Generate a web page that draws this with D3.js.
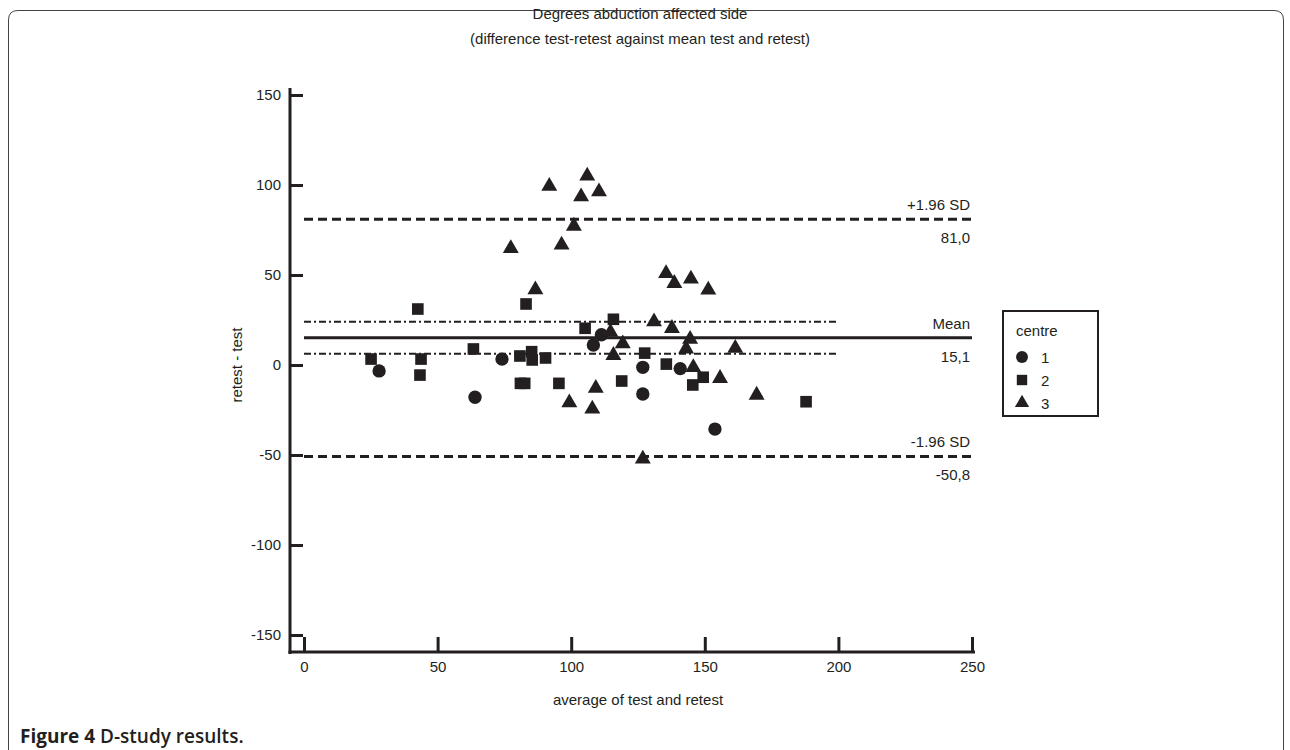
<!DOCTYPE html>
<html>
<head>
<meta charset="utf-8">
<script src="https://cdn.jsdelivr.net/npm/d3@7"></script>
<style>
  body { margin: 0; background: #fff; }
  svg text { font-family: "Liberation Sans", Arial, sans-serif; fill: #231f20; }
</style>
</head>
<body>
<svg id="chart" width="1290" height="750" viewBox="0 0 1290 750"></svg>
<script>
// Bland-Altman points, [average, difference], one array per centre
const centre1 = [
    [28.1, -3.3], [64.0, -17.9], [74.1, 3.3], [108.3, 11.1], [111.3, 16.8],
    [126.8, -1.3], [126.8, -16.1], [140.8, -2.0], [153.8, -35.6]
];
const centre2 = [
    [25.1, 3.3], [42.6, 31.1], [43.8, 3.3], [43.4, -5.6], [63.4, 8.9],
    [83.1, 33.9], [80.8, 5.0], [85.2, 7.4], [85.4, 2.8], [90.4, 3.9],
    [81.0, -10.2], [82.6, -10.2], [95.4, -10.2], [105.2, 20.4], [115.8, 25.4],
    [118.9, -8.9], [127.5, 6.6], [135.6, 0.5], [145.5, -11.1], [149.4, -6.8],
    [187.9, -20.4]
];
const centre3 = [
    [77.4, 64.8], [86.6, 41.9], [91.8, 99.4], [96.4, 66.7], [101.0, 77.2],
    [103.7, 93.5], [106.0, 105.0], [110.4, 96.3], [99.3, -20.9], [107.9, -24.4],
    [109.2, -12.9], [114.7, 18.2], [115.8, 5.4], [119.3, 11.8], [126.8, -52.2],
    [131.0, 24.1], [135.5, 50.9], [137.7, 20.4], [138.6, 45.4], [143.0, 9.0],
    [144.5, 14.4], [144.8, 47.8], [145.7, -1.4], [151.3, 41.7], [155.7, -7.4],
    [161.4, 9.3], [169.4, -16.7]
];

const meanDiff = 15.1;
const upperLoA = 81.0;
const lowerLoA = -50.8;
const meanCI = [6.2, 24.0];

const xTicks = [0, 50, 100, 150, 200, 250];
const yTicks = [-150, -100, -50, 0, 50, 100, 150];
const legendLabels = ["1", "2", "3"];

const ink = "#231f20";
const fs = "15px";
const svg = d3.select("#chart");

// frame around the figure
svg.append("path")
    .attr("d", "M8.5,760 V20 Q8.5,10.5 18,10.5 H1274 Q1283.5,10.5 1283.5,20 V760")
    .attr("fill", "none")
    .attr("stroke", "#444")
    .attr("stroke-width", 1);

const x = d3.scaleLinear().domain([0, 250]).range([304, 972]);
const y = d3.scaleLinear().domain([-150, 150]).range([635, 95]);

// titles
svg.append("text").attr("x", 640).attr("y", 19).attr("text-anchor", "middle")
    .style("font-size", fs).text("Degrees abduction affected side");
svg.append("text").attr("x", 640).attr("y", 44).attr("text-anchor", "middle")
    .style("font-size", fs).text("(difference test-retest against mean test and retest)");

// y axis
const yAxis = svg.append("g")
    .attr("transform", "translate(290,0)")
    .call(d3.axisLeft(y).tickValues(yTicks).tickFormat(d => String(d))
        .tickSizeInner(-13).tickSizeOuter(0).tickPadding(9));
yAxis.select(".domain").remove();
svg.append("line").attr("x1", 290).attr("x2", 290).attr("y1", 88).attr("y2", 654)
    .attr("stroke", ink).attr("stroke-width", 3);

// x axis
const xAxis = svg.append("g")
    .attr("transform", "translate(0,652)")
    .call(d3.axisBottom(x).tickValues(xTicks).tickFormat(d => String(d))
        .tickSizeInner(-15).tickSizeOuter(0).tickPadding(9));
xAxis.select(".domain").remove();
svg.append("line").attr("x1", 288.5).attr("x2", 975).attr("y1", 652).attr("y2", 652)
    .attr("stroke", ink).attr("stroke-width", 3);

[xAxis, yAxis].forEach(a => {
    a.selectAll(".tick line").attr("stroke", ink).attr("stroke-width", 3);
    a.selectAll(".tick text").style("font-size", fs)
        .style("font-family", "'Liberation Sans', Arial, sans-serif")
        .attr("fill", ink);
});

svg.append("text").attr("x", 638).attr("y", 705).attr("text-anchor", "middle")
    .style("font-size", fs).text("average of test and retest");
svg.append("text").attr("transform", "translate(242,365) rotate(-90)").attr("text-anchor", "middle")
    .style("font-size", fs).text("retest - test");

// reference lines
const refs = svg.append("g");
refs.append("line").attr("x1", x(0)).attr("x2", x(250)).attr("y1", y(meanDiff)).attr("y2", y(meanDiff))
    .attr("stroke", ink).attr("stroke-width", 3);
[upperLoA, lowerLoA].forEach(v => {
    refs.append("line").attr("x1", x(0)).attr("x2", x(250)).attr("y1", y(v)).attr("y2", y(v))
        .attr("stroke", ink).attr("stroke-width", 3).attr("stroke-dasharray", "9,5");
});
meanCI.forEach(v => {
    refs.append("line").attr("x1", x(0)).attr("x2", x(200)).attr("y1", y(v)).attr("y2", y(v))
        .attr("stroke", ink).attr("stroke-width", 2).attr("stroke-dasharray", "7,3,2,3");
});

const refLabels = [
    [upperLoA, "+1.96 SD", "81,0"],
    [meanDiff, "Mean", "15,1"],
    [lowerLoA, "-1.96 SD", "-50,8"]
];
refLabels.forEach(([v, top, bottom]) => {
    refs.append("text").attr("x", 970).attr("y", y(v) - 9).attr("text-anchor", "end")
        .style("font-size", fs).text(top);
    refs.append("text").attr("x", 970).attr("y", y(v) + 24).attr("text-anchor", "end")
        .style("font-size", fs).text(bottom);
});

// points
const shapes = [d3.symbolCircle, d3.symbolSquare, d3.symbolTriangle];
const sizes = [140, 135, 110];
[centre1, centre2, centre3].forEach((pts, i) => {
    svg.append("g").selectAll("path")
        .data(pts)
        .enter()
        .append("path")
        .attr("transform", d => `translate(${x(d[0])},${y(d[1])})`)
        .attr("d", d3.symbol().type(shapes[i]).size(sizes[i]))
        .attr("fill", ink);
});

// legend
const legend = svg.append("g").attr("transform", "translate(1003,311)");
legend.append("rect").attr("width", 95).attr("height", 105)
    .attr("fill", "#fff").attr("stroke", ink).attr("stroke-width", 2);
legend.append("text").attr("x", 13).attr("y", 25).style("font-size", fs).text("centre");
legendLabels.forEach((lab, i) => {
    legend.append("path")
        .attr("transform", `translate(19,${46 + i * 23})`)
        .attr("d", d3.symbol().type(shapes[i]).size(sizes[i] * 0.8))
        .attr("fill", ink);
    legend.append("text").attr("x", 38).attr("y", 52 + i * 23).style("font-size", fs).text(lab);
});

// caption
const cap = svg.append("text").attr("x", 20).attr("y", 743)
    .style("font-family", "'Open Sans', 'Noto Sans', sans-serif").style("font-size", "19px")
    .style("font-weight", "700");
cap.append("tspan").text("Figure 4");
cap.append("tspan").style("font-weight", "600").text(" D-study results.");
</script>
</body>
</html>
